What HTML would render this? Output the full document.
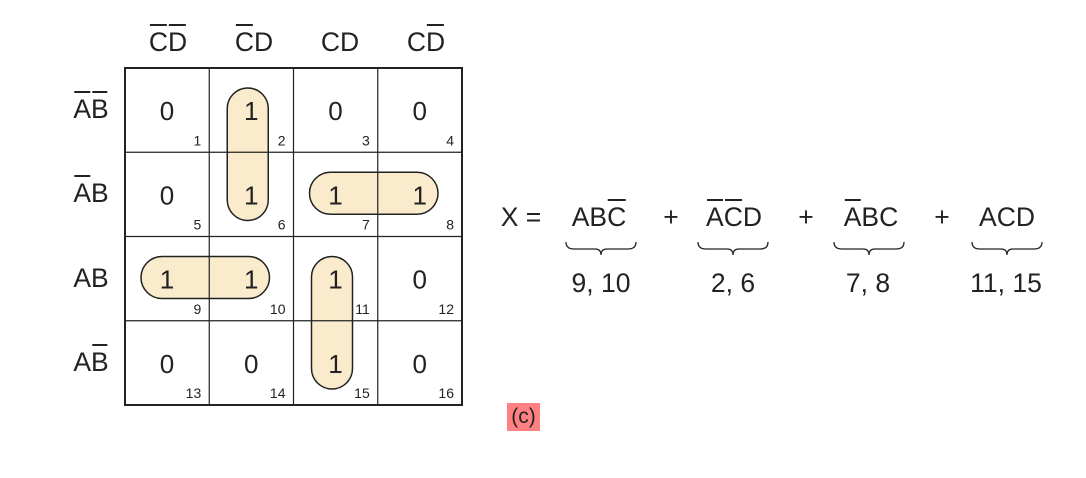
<!DOCTYPE html>
<html><head><meta charset="utf-8"><style>
html,body{margin:0;padding:0;background:#fff;}
#root{position:relative;width:1086px;height:478px;overflow:hidden;font-family:"Liberation Sans",sans-serif;color:#222;}
.lbl{position:absolute;font-size:26.5px;line-height:25px;white-space:nowrap;transform:translateX(-50%);}
.ov{position:relative;}
.ov::before{content:"";position:absolute;left:1px;right:1px;top:-3px;height:1.6px;background:#222;}
svg{position:absolute;left:0;top:0;}
</style></head><body>
<div id="root">
<svg id="map" width="1086" height="478"></svg>

<div class="lbl" style="left:168px;top:30px"><span class="ov">C</span><span class="ov">D</span></div>
<div class="lbl" style="left:254px;top:30px"><span class="ov">C</span>D</div>
<div class="lbl" style="left:340px;top:30px">CD</div>
<div class="lbl" style="left:426px;top:30px">C<span class="ov">D</span></div>

<div class="lbl" style="left:91px;top:97px"><span class="ov">A</span><span class="ov">B</span></div>
<div class="lbl" style="left:91px;top:181px"><span class="ov">A</span>B</div>
<div class="lbl" style="left:91px;top:266px">AB</div>
<div class="lbl" style="left:91px;top:350px">A<span class="ov">B</span></div>

<div class="lbl" style="left:521px;top:205px">X =</div>
<div class="lbl" style="left:599px;top:205px">AB<span class="ov">C</span></div>
<div class="lbl" style="left:671px;top:205px">+</div>
<div class="lbl" style="left:734px;top:205px"><span class="ov">A</span><span class="ov">C</span>D</div>
<div class="lbl" style="left:806px;top:205px">+</div>
<div class="lbl" style="left:871px;top:205px"><span class="ov">A</span>BC</div>
<div class="lbl" style="left:942px;top:205px">+</div>
<div class="lbl" style="left:1007px;top:205px">ACD</div>

<div class="lbl" style="left:601px;top:271px">9, 10</div>
<div class="lbl" style="left:733px;top:271px">2, 6</div>
<div class="lbl" style="left:868px;top:271px">7, 8</div>
<div class="lbl" style="left:1006px;top:271px">11, 15</div>

<div style="position:absolute;left:507px;top:403px;width:33px;height:28px;background:#ff8080;font-size:21px;line-height:28px;text-align:center;">(c)</div>
</div>
<script>
const cellValues = [[0,1,0,0],[0,1,1,1],[1,1,1,0],[0,0,1,0]];
const cellNumbers = [[1,2,3,4],[5,6,7,8],[9,10,11,12],[13,14,15,16]];
// groups: [row, col, rowSpan, colSpan]
const groups = [[0,1,2,1],[1,2,1,2],[2,0,1,2],[2,2,2,1]];
const braceCenters = [601,733,869,1007];

const NS='http://www.w3.org/2000/svg';
const svg=document.getElementById('map');
const X0=125,Y0=68,W=337/4,H=337/4;
const cx=c=>X0+c*W, cy=r=>Y0+r*H;
function mk(t,a){const e=document.createElementNS(NS,t);for(const k in a)e.setAttribute(k,a[k]);svg.appendChild(e);return e;}

groups.forEach((g,i)=>{
  const [r,c,rs,cs]=g;
  const x=cx(c)+(cs>1?16:18), y=cy(r)+20, w=cs>1?cs*W-40:41, h=rs>1?rs*H-36:42;
  const rr=Math.min(w,h)/2;
  const e=mk('rect',{x:x,y:y,width:w,height:h,rx:rr,ry:rr,fill:'#f9ebcb',stroke:'#222','stroke-width':1.5});
  
  
});
for(let i=1;i<4;i++){
  const v=mk('line',{x1:cx(i),y1:Y0,x2:cx(i),y2:Y0+337,stroke:'#222','stroke-width':1.2});
  
  
  const h=mk('line',{x1:X0,y1:cy(i),x2:X0+337,y2:cy(i),stroke:'#222','stroke-width':1.2});
  
  
}
const border=mk('rect',{x:X0,y:Y0,width:337,height:337,fill:'none',stroke:'#222','stroke-width':2});


for(let r=0;r<4;r++)for(let c=0;c<4;c++){
  const t=mk('text',{x:cx(c)+42,y:cy(r)+52,'font-size':26,'text-anchor':'middle',fill:'#222','font-family':'Liberation Sans'});
  t.textContent=cellValues[r][c];
  
  
  const n=mk('text',{x:cx(c+1)-8,y:cy(r+1)-7,'font-size':14,'text-anchor':'end',fill:'#222','font-family':'Liberation Sans'});
  n.textContent=cellNumbers[r][c];
  
  
}
braceCenters.forEach(m=>{
  const l=m-35,r=m+35,y=242;
  const p=mk('path',{d:`M${l},${y} Q${l},${y+7} ${l+8},${y+7} L${m-6},${y+7} Q${m},${y+7} ${m},${y+13} Q${m},${y+7} ${m+6},${y+7} L${r-8},${y+7} Q${r},${y+7} ${r},${y}`,fill:'none',stroke:'#222','stroke-width':1.3});
  
  
});
</script>
</body></html>
